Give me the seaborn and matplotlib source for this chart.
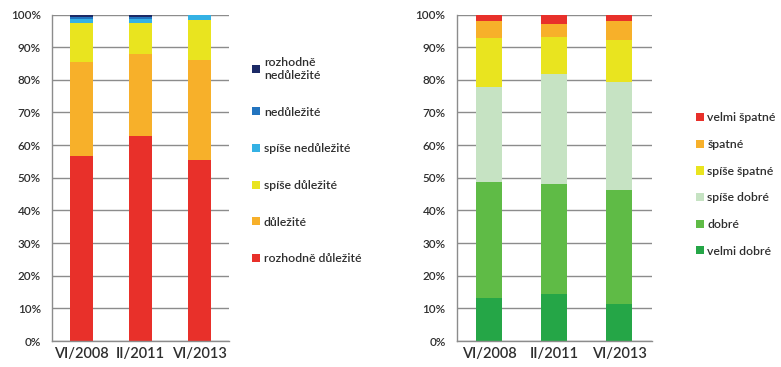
import numpy as np
import pandas as pd
import seaborn as sns
import matplotlib
matplotlib.use("Agg")
import matplotlib.pyplot as plt
from matplotlib.patches import Patch

# Survey waves
periods = ["VI/2008", "II/2011", "VI/2013"]

# Importance ratings (percent), bottom segment first
importance_labels = ["rozhodně důležité", "důležité", "spíše důležité",
                     "spíše nedůležité", "nedůležité", "rozhodně nedůležité"]
imp_rozhodne_dulezite = [56.8, 62.9, 55.3]
imp_dulezite = [28.8, 24.9, 30.9]
imp_spise_dulezite = [11.7, 9.6, 12.1]
imp_spise_nedulezite = [1.2, 1.1, 1.7]
imp_nedulezite = [0.8, 0.8, 0.0]
imp_rozhodne_nedulezite = [0.7, 0.7, 0.0]
importance_colors = ["#e8302a", "#f7b02a", "#e9e41f", "#34b1e4", "#2274bf", "#1c2a66"]

# Assessment ratings (percent), bottom segment first
rating_labels = ["velmi dobré", "dobré", "spíše dobré",
                 "spíše špatné", "špatné", "velmi špatné"]
rat_velmi_dobre = [13.3, 14.3, 11.4]
rat_dobre = [35.5, 33.8, 34.8]
rat_spise_dobre = [28.9, 33.6, 33.1]
rat_spise_spatne = [15.1, 11.3, 13.0]
rat_spatne = [5.1, 4.2, 5.7]
rat_velmi_spatne = [2.1, 2.8, 2.0]
rating_colors = ["#25a647", "#5fbb46", "#c6e3c3", "#e9e41f", "#f7b02a", "#e8302a"]

importance_values = [imp_rozhodne_dulezite, imp_dulezite, imp_spise_dulezite,
                     imp_spise_nedulezite, imp_nedulezite, imp_rozhodne_nedulezite]
rating_values = [rat_velmi_dobre, rat_dobre, rat_spise_dobre,
                 rat_spise_spatne, rat_spatne, rat_velmi_spatne]

sns.set_style("white")
plt.rcParams["font.family"] = ["Lato", "DejaVu Sans"]
plt.rcParams["font.weight"] = "semibold"

GRID = "#8c8c8c"
TEXT = "#2e2e2e"


def cumulative_frame(labels, values):
    cum = np.cumsum(np.array(values), axis=0)
    rows = []
    for lab, col in zip(labels, cum):
        for p, v in zip(periods, col):
            rows.append({"period": p, "category": lab, "cum": v})
    return pd.DataFrame(rows)


def stacked(ax, labels, values, colors):
    df = cumulative_frame(labels, values)
    # draw the tallest cumulative layer first so lower segments sit on top
    order = labels[::-1]
    palette = dict(zip(labels, colors))
    sns.barplot(data=df, x="period", y="cum", hue="category", hue_order=order,
                order=periods, palette=palette, dodge=False, width=0.4,
                saturation=1, legend=False, ax=ax, linewidth=0)
    ax.set_axisbelow(True)
    ax.set_ylim(0, 100)
    ax.set_xlim(-0.5, 2.5)
    ax.set_yticks(np.arange(0, 101, 10))
    ax.set_yticklabels([f"{v}%" for v in range(0, 101, 10)])
    ax.yaxis.grid(True, color=GRID, linewidth=1.0)
    ax.set_xlabel("")
    ax.set_ylabel("")
    # category separators as outward ticks, labels centred under bars
    ax.set_xticks([-0.5, 0.5, 1.5, 2.5])
    ax.set_xticklabels([])
    ax.set_xticks([0, 1, 2], minor=True)
    ax.set_xticklabels(periods, minor=True)
    ax.tick_params(axis="x", which="major", direction="out", length=4,
                   width=1, color=GRID)
    ax.tick_params(axis="x", which="minor", length=0, pad=4,
                   labelsize=10.5, labelcolor=TEXT)
    ax.tick_params(axis="y", direction="out", length=3, width=1, color=GRID,
                   labelsize=8.4, labelcolor=TEXT, pad=5)
    for s in ["top", "right"]:
        ax.spines[s].set_visible(False)
    for s in ["left", "bottom"]:
        ax.spines[s].set_color(GRID)
        ax.spines[s].set_linewidth(1.0)


fig = plt.figure(figsize=(7.81, 3.67), dpi=100)
ax1 = fig.add_axes([0.0666, 0.0708, 0.2266, 0.8896])
ax2 = fig.add_axes([0.5848, 0.0708, 0.2497, 0.8896])

stacked(ax1, importance_labels, importance_values, importance_colors)
stacked(ax2, rating_labels, rating_values, rating_colors)

# Legends list the top segment first
imp_handles = [Patch(facecolor=c, edgecolor="none") for c in importance_colors[::-1]]
imp_names = ["rozhodně\nnedůležité"] + importance_labels[::-1][1:]
fig.legend(imp_handles, imp_names, loc="center left",
           bbox_to_anchor=(0.323, 0.562), frameon=False, fontsize=8.8,
           handlelength=0.65, handleheight=0.65, handletextpad=0.3,
           labelspacing=2.1, borderpad=0, borderaxespad=0, labelcolor=TEXT)

rat_handles = [Patch(facecolor=c, edgecolor="none") for c in rating_colors[::-1]]
fig.legend(rat_handles, rating_labels[::-1], loc="center left",
           bbox_to_anchor=(0.891, 0.497), frameon=False, fontsize=8.8,
           handlelength=0.65, handleheight=0.65, handletextpad=0.3,
           labelspacing=1.28, borderpad=0, borderaxespad=0, labelcolor=TEXT)

fig.savefig("out.png", dpi=100)
